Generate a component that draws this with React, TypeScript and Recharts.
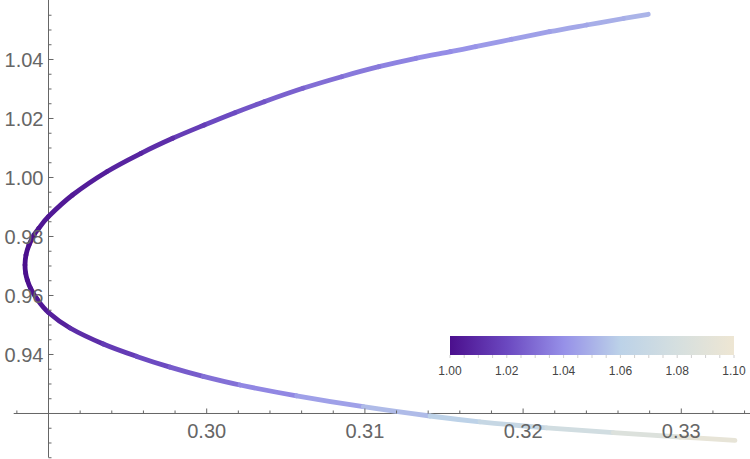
import { ScatterChart, Scatter, XAxis, YAxis, ReferenceLine } from "recharts";

// plot window (data units) that maps onto the full 750x459 picture
const X_MIN = 0.286934;
const X_MAX = 0.334343;
const Y_MIN = 0.904576;
const Y_MAX = 1.060169;
const W = 750;
const H = 459;

// axes cross here
const AXIS_X = 0.29;
const AXIS_Y = 0.92;
const X_AXIS_START = 0.2878;

// curve, upper end -> vertex -> lower end
const CURVE_X = [
  0.327914, 0.326346, 0.324014, 0.321669, 0.319266, 0.316991, 0.315404, 0.313224, 0.310885,
  0.308527, 0.306081, 0.303634, 0.301782, 0.299848, 0.297851, 0.295847, 0.293685, 0.291517,
  0.289987, 0.289387, 0.289083, 0.288767, 0.288577, 0.288514, 0.288559, 0.28866, 0.288868,
  0.289273, 0.29, 0.291359, 0.293464, 0.295575, 0.29768, 0.299785, 0.302105, 0.305689,
  0.309899, 0.314115, 0.317275, 0.321492, 0.325702, 0.329918, 0.333394,
];
const CURVE_Y = [
  1.055322, 1.053898, 1.051694, 1.049423, 1.046847, 1.044338, 1.042644, 1.040406, 1.037559,
  1.034169, 1.030237, 1.025694, 1.021966, 1.017796, 1.013288, 1.008203, 1.001966, 0.994067,
  0.986711, 0.982779, 0.980508, 0.977118, 0.973728, 0.970338, 0.967525, 0.965254, 0.96244,
  0.958813, 0.954237, 0.948983, 0.943559, 0.939355, 0.935728, 0.932576, 0.929661, 0.926,
  0.922305, 0.919152, 0.917186, 0.915152, 0.913525, 0.912033, 0.910881,
];
// colour value of each point (colour bar scale 1.00 .. 1.10)
const CURVE_C = [
  1.052, 1.05, 1.048, 1.046, 1.044, 1.042, 1.04, 1.038, 1.035, 1.032,
  1.029, 1.025, 1.022, 1.019, 1.013, 1.009, 1.006, 1.004, 1.003, 1.002,
  1.001, 1.0, 1.0, 1.0, 1.0, 1.0, 1.001, 1.002, 1.004, 1.008,
  1.013, 1.018, 1.023, 1.028, 1.034, 1.041, 1.049, 1.057, 1.064, 1.072,
  1.081, 1.09, 1.098,
];

const X_TICKS = [
  0.288, 0.292, 0.294, 0.296, 0.298, 0.3, 0.302, 0.304, 0.306, 0.308, 0.31, 0.312, 0.314,
  0.316, 0.318, 0.32, 0.322, 0.324, 0.326, 0.328, 0.33, 0.332, 0.334,
];
const Y_TICKS = [
  0.905, 0.91, 0.915, 0.925, 0.93, 0.935, 0.94, 0.945, 0.95, 0.955, 0.96, 0.965, 0.97, 0.975,
  0.98, 0.985, 0.99, 0.995, 1.0, 1.005, 1.01, 1.015, 1.02, 1.025, 1.03, 1.035, 1.04, 1.045,
  1.05, 1.055,
];

// colour bar
const BAR_VALUES = [1.0, 1.02, 1.04, 1.06, 1.08, 1.1];
const BAR_COLORS = ["#4b0f8d", "#6b48c0", "#9690e8", "#bcd2e8", "#d5dfdf", "#eee6d3"];
const BAR_LABELS = ["1.00", "1.02", "1.04", "1.06", "1.08", "1.10"];

const AXIS_COLOR = "#666";
const FONT = "'Liberation Sans', Arial, sans-serif";

const xPix = (v: number) => ((v - X_MIN) / (X_MAX - X_MIN)) * W;
const yPix = (v: number) => ((Y_MAX - v) / (Y_MAX - Y_MIN)) * H;
const isMajor = (v: number, step: number) => Math.abs(v / step - Math.round(v / step)) < 1e-6;

const hex = (h: string) => [1, 3, 5].map((i) => parseInt(h.slice(i, i + 2), 16));
const colorAt = (c: number) => {
  let i = 0;
  while (i < BAR_VALUES.length - 2 && c > BAR_VALUES[i + 1]) i++;
  const t = Math.max(0, Math.min(1, (c - BAR_VALUES[i]) / (BAR_VALUES[i + 1] - BAR_VALUES[i])));
  const a = hex(BAR_COLORS[i]);
  const b = hex(BAR_COLORS[i + 1]);
  const m = a.map((v, k) => Math.round(v + (b[k] - v) * t));
  return `rgb(${m[0]},${m[1]},${m[2]})`;
};

// curve factory: gets 4 points, draws only the middle piece as a Catmull-Rom bezier
const midPiece = (ctx: any) => {
  let pts: number[][] = [];
  return {
    areaStart() {},
    areaEnd() {},
    lineStart() {
      pts = [];
    },
    point(x: number, y: number) {
      pts.push([+x, +y]);
    },
    lineEnd() {
      const [p0, p1, p2, p3] = pts;
      ctx.moveTo(p1[0], p1[1]);
      ctx.bezierCurveTo(
        p1[0] + (p2[0] - p0[0]) / 6,
        p1[1] + (p2[1] - p0[1]) / 6,
        p2[0] - (p3[0] - p1[0]) / 6,
        p2[1] - (p3[1] - p1[1]) / 6,
        p2[0],
        p2[1]
      );
    },
  };
};

const last = CURVE_X.length - 1;
const pt = (i: number) => {
  const k = Math.max(0, Math.min(last, i));
  return { x: CURVE_X[k], y: CURVE_Y[k] };
};
const segments = CURVE_X.slice(0, -1).map((_, i) => ({
  data: [pt(i - 1), pt(i), pt(i + 1), pt(i + 2)],
  color: colorAt((CURVE_C[i] + CURVE_C[i + 1]) / 2),
}));

const XTick = (props: any) => {
  const { x, payload } = props;
  const v = payload.value;
  const major = isMajor(v, 0.01);
  const y0 = yPix(AXIS_Y);
  return (
    <g>
      <line x1={x} x2={x} y1={y0} y2={y0 - (major ? 5 : 3)} stroke={AXIS_COLOR} />
      {major && (
        <text x={x} y={y0 + 25} textAnchor="middle" fontSize={20} fill="#666" fontFamily={FONT}>
          {v.toFixed(2)}
        </text>
      )}
    </g>
  );
};

const YTick = (props: any) => {
  const { y, payload } = props;
  const v = payload.value;
  const major = isMajor(v, 0.02);
  const x0 = xPix(AXIS_X);
  return (
    <g>
      <line x1={x0} x2={x0 + (major ? 5 : 3)} y1={y} y2={y} stroke={AXIS_COLOR} />
      {major && (
        <text x={x0 - 5} y={y + 7.5} textAnchor="end" fontSize={20} fill="#666" fontFamily={FONT}>
          {v.toFixed(2)}
        </text>
      )}
    </g>
  );
};

const noShape = () => <g />;

const ColorBar = () => {
  const left = 450;
  const top = 336;
  const width = 284;
  const height = 19;
  const minorTicks = Array.from({ length: 21 }, (_, i) => left + (i * width) / 20);
  return (
    <svg
      width={W}
      height={H}
      style={{ position: "absolute", left: 0, top: 0, pointerEvents: "none" }}
    >
      <defs>
        <linearGradient id="lake" x1="0" x2="1" y1="0" y2="0">
          {BAR_VALUES.map((v, i) => (
            <stop key={v} offset={`${((v - 1) / 0.1) * 100}%`} stopColor={BAR_COLORS[i]} />
          ))}
        </linearGradient>
      </defs>
      <rect x={left} y={top} width={width} height={height} fill="url(#lake)" />
      {minorTicks.map((tx, i) => (
        <line key={i} x1={tx} x2={tx} y1={top + height} y2={top + height + 3} stroke="#cfcfcf" />
      ))}
      {BAR_LABELS.map((l, i) => (
        <text
          key={l}
          x={left + (i * width) / 5}
          y={375}
          textAnchor="middle"
          fontSize={12}
          fill="#444"
          fontFamily={FONT}
        >
          {l}
        </text>
      ))}
    </svg>
  );
};

export default function App() {
  return (
    <div style={{ position: "absolute", left: 0, top: 0, width: W, height: H, background: "#fff" }}>
      <ScatterChart width={W} height={H} margin={{ top: 0, right: 0, bottom: -1, left: -1 }}>
        <XAxis
          type="number"
          dataKey="x"
          domain={[X_MIN, X_MAX]}
          allowDataOverflow
          ticks={X_TICKS}
          interval={0}
          height={1}
          axisLine={false}
          tickLine={false}
          tick={(p: any) => <XTick {...p} />}
        />
        <YAxis
          type="number"
          dataKey="y"
          domain={[Y_MIN, Y_MAX]}
          allowDataOverflow
          ticks={Y_TICKS}
          interval={0}
          width={1}
          axisLine={false}
          tickLine={false}
          tick={(p: any) => <YTick {...p} />}
        />
        <ReferenceLine
          segment={[
            { x: X_AXIS_START, y: AXIS_Y },
            { x: X_MAX, y: AXIS_Y },
          ]}
          stroke={AXIS_COLOR}
          ifOverflow="visible"
        />
        <ReferenceLine
          segment={[
            { x: AXIS_X, y: Y_MIN + 0.0005 },
            { x: AXIS_X, y: Y_MAX },
          ]}
          stroke={AXIS_COLOR}
          ifOverflow="visible"
        />
        {segments.map((s, i) => (
          <Scatter
            key={i}
            data={s.data}
            shape={noShape}
            line={{ stroke: s.color, strokeWidth: 4.8, strokeLinecap: "round" }}
            lineJointType={midPiece as any}
            fill={s.color}
            isAnimationActive={false}
          />
        ))}
      </ScatterChart>
      <ColorBar />
    </div>
  );
}
